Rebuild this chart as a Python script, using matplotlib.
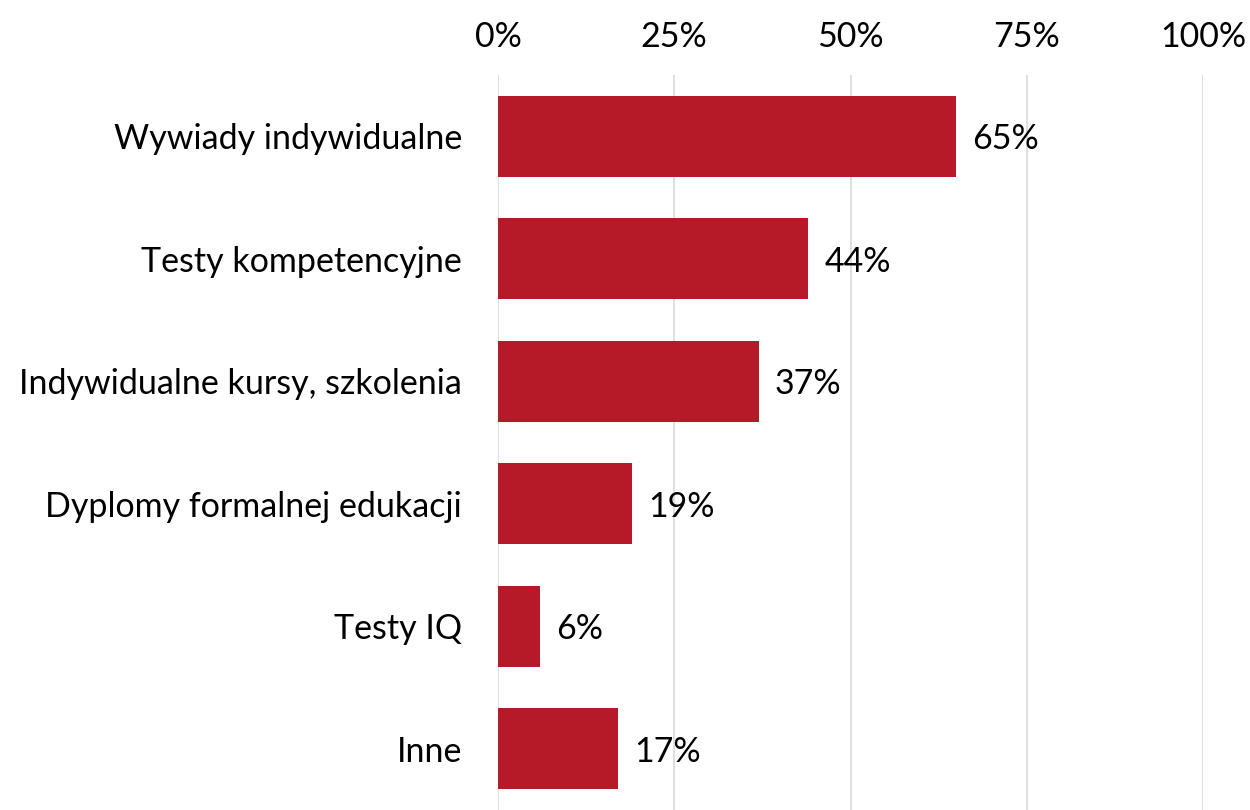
import matplotlib
matplotlib.use("Agg")
import matplotlib.pyplot as plt
from matplotlib.ticker import FuncFormatter

categories = ["Wywiady indywidualne", "Testy kompetencyjne", "Indywidualne kursy, szkolenia",
              "Dyplomy formalnej edukacji", "Testy IQ", "Inne"]
values = [65, 44, 37, 19, 6, 17]
ticks = [0, 25, 50, 75, 100]

plt.rcParams['font.family'] = ['Lato', 'DejaVu Sans']
fig = plt.figure(figsize=(12.5, 8.1), dpi=100)
ax = fig.add_axes([0.3984, 0.0, 0.564, 0.9074])

y = list(range(len(categories)))
ax.barh(y, values, height=0.66, color="#B51A28", zorder=3)
for yi, v in zip(y, values):
    ax.text(v + 2.3, yi, f"{v}%", va="center_baseline", ha="left", fontsize=24.5, color="#000000")

ax.set_xlim(0, 100)
ax.set_ylim(5.5, -0.5)
ax.set_yticks(y)
ax.set_yticklabels(categories, fontsize=24.5, va="center_baseline")
ax.set_xticks(ticks)
ax.xaxis.set_major_formatter(FuncFormatter(lambda v, p: f"{int(v)}%"))
ax.xaxis.tick_top()
ax.tick_params(axis='x', labelsize=24.5, length=0, pad=16)
ax.tick_params(axis='y', length=0, pad=26)
ax.grid(axis='x', color="#D9D9D9", linewidth=1.2, zorder=0)
for s in ax.spines.values():
    s.set_visible(False)

fig.savefig("out.png", dpi=100)
